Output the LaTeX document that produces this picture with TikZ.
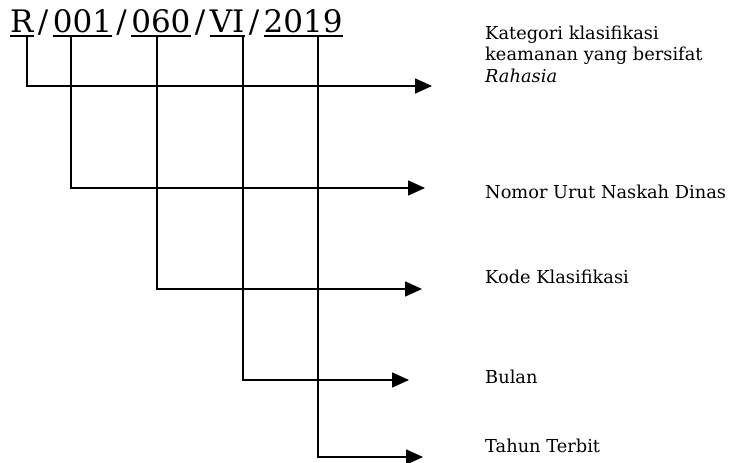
\documentclass[tikz,border=0pt]{standalone}
\usepackage{fontspec}
\setmainfont{DejaVu Serif}
\usetikzlibrary{arrows.meta}
\begin{document}
\begin{tikzpicture}[x=1pt,y=-1pt,
  seg/.style={inner sep=0pt,anchor=base west,font=\fontsize{31}{36}\selectfont},
  slash/.style={seg,minimum width=18.5pt},
  lbl/.style={inner sep=0pt,anchor=base west,align=left,font=\fontsize{17.8}{21.5}\selectfont},
  conn/.style={line width=1.6pt,-{Triangle[length=17pt,width=15pt]}},
  uline/.style={line width=1.4pt}]
\useasboundingbox (0,0) rectangle (729,463);
% title segments
\node[seg] (r) at (10,32) {R};
\node[slash] (s1) at (r.base east) {/};
\node[seg] (n1) at (s1.base east) {001};
\node[slash] (s2) at (n1.base east) {/};
\node[seg] (n2) at (s2.base east) {060};
\node[slash] (s3) at (n2.base east) {/};
\node[seg] (n3) at (s3.base east) {VI};
\node[slash] (s4) at (n3.base east) {/};
\node[seg] (n4) at (s4.base east) {2019};
\foreach \n in {r,n1,n2,n3,n4}{
  \draw[uline] ([yshift=-4pt]\n.base west) -- ([yshift=-4pt]\n.base east);
}
% labels
\node[lbl] (l1) at (485,82) {Kategori klasifikasi\\keamanan yang bersifat\\\textit{Rahasia}};
\node[lbl] (l2) at (485,198) {Nomor Urut Naskah Dinas};
\node[lbl] (l3) at (485,283) {Kode Klasifikasi};
\node[lbl] (l4) at (485,383) {Bulan};
\node[lbl] (l5) at (485,452) {Tahun Terbit};
% connector end points
\coordinate (a1) at (27,36);
\coordinate (a2) at (71,36);
\coordinate (a3) at (157,36);
\coordinate (a4) at (243,36);
\coordinate (a5) at (318,36);
\coordinate (t1) at (432,86);
\coordinate (t2) at (425,188);
\coordinate (t3) at (422,289);
\coordinate (t4) at (409,380);
\coordinate (t5) at (423,457);
\draw[conn] (a1) |- (t1);
\draw[conn] (a2) |- (t2);
\draw[conn] (a3) |- (t3);
\draw[conn] (a4) |- (t4);
\draw[conn] (a5) |- (t5);
\end{tikzpicture}
\end{document}
